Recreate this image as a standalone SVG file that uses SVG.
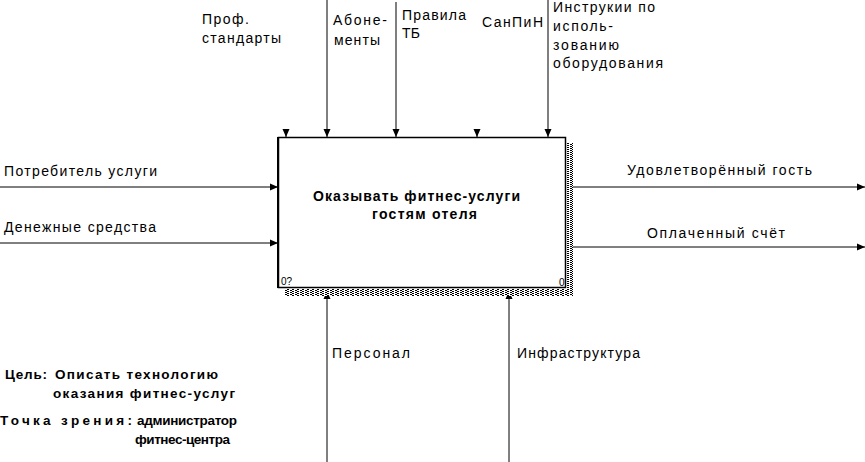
<svg xmlns="http://www.w3.org/2000/svg" width="865" height="462" viewBox="0 0 865 462">
<style>
text{font-family:"Liberation Sans",Arial,"DejaVu Sans",sans-serif;fill:#000}
.lbl{font-size:14px}
.ttl{font-size:14px;font-weight:bold}
.meta{font-size:13.5px;font-weight:bold}
.num{font-size:10px}
.ln{stroke:#000;stroke-width:1;fill:none}
</style>
<defs>
<marker id="ah" markerUnits="userSpaceOnUse" markerWidth="10" markerHeight="8" refX="8" refY="4" orient="auto">
<path d="M0,0.5 L8,4 L0,7.5 Z" fill="#000"/>
</marker>
<pattern id="hatch" width="5" height="2" patternUnits="userSpaceOnUse">
<rect width="5" height="2" fill="#fff"/>
<rect x="0" y="0" width="2" height="1" fill="#000"/>
<rect x="2" y="1" width="2" height="1" fill="#000"/>
</pattern>
</defs>
<rect width="865" height="462" fill="#fff"/>

<g id="connectors">
<path class="ln" d="M286,129 L286,137" marker-end="url(#ah)"/>
<path class="ln" d="M327,0 L327,137" marker-end="url(#ah)"/>
<path class="ln" d="M396,2 L396,137" marker-end="url(#ah)"/>
<path class="ln" d="M477,129 L477,137" marker-end="url(#ah)"/>
<path class="ln" d="M548,0 L548,137" marker-end="url(#ah)"/>
<path class="ln" d="M0,187 L278,187" marker-end="url(#ah)"/>
<path class="ln" d="M0,243 L278,243" marker-end="url(#ah)"/>
<path class="ln" d="M573,187 L865,187" marker-end="url(#ah)"/>
<path class="ln" d="M573,247 L865,247" marker-end="url(#ah)"/>
<path class="ln" d="M327,462 L327,291" marker-end="url(#ah)"/>
<path class="ln" d="M509,462 L509,291" marker-end="url(#ah)"/>
</g>

<g id="labels">
<text class="lbl" x="202" y="24" textLength="47" lengthAdjust="spacing">Проф.</text>
<text class="lbl" x="202" y="43" textLength="79" lengthAdjust="spacing">стандарты</text>
<text class="lbl" x="333" y="25" textLength="54" lengthAdjust="spacing">Абоне-</text>
<text class="lbl" x="334" y="45" textLength="46" lengthAdjust="spacing">менты</text>
<text class="lbl" x="402" y="20" textLength="64" lengthAdjust="spacing">Правила</text>
<text class="lbl" x="402" y="38" textLength="18" lengthAdjust="spacing">ТБ</text>
<text class="lbl" x="482" y="27" textLength="61" lengthAdjust="spacing">СанПиН</text>
<text class="lbl" x="553" y="12" textLength="102" lengthAdjust="spacing">Инструкии по</text>
<text class="lbl" x="553" y="31" textLength="60" lengthAdjust="spacing">исполь-</text>
<text class="lbl" x="553" y="50" textLength="66" lengthAdjust="spacing">зованию</text>
<text class="lbl" x="553" y="68" textLength="110" lengthAdjust="spacing">оборудования</text>
<text class="lbl" x="4" y="176" textLength="153" lengthAdjust="spacing">Потребитель услуги</text>
<text class="lbl" x="4" y="232" textLength="152" lengthAdjust="spacing">Денежные средства</text>
<text class="lbl" x="627" y="175" textLength="185" lengthAdjust="spacing">Удовлетворённый гость</text>
<text class="lbl" x="647" y="238" textLength="138" lengthAdjust="spacing">Оплаченный счёт</text>
<text class="lbl" x="332" y="358" textLength="78" lengthAdjust="spacing">Персонал</text>
<text class="lbl" x="517" y="358" textLength="123" lengthAdjust="spacing">Инфраструктура</text>
</g>

<g id="node-A0">
<rect x="567" y="143" width="6" height="153" fill="url(#hatch)"/>
<rect x="284" y="289" width="289" height="7" fill="url(#hatch)"/>
<rect x="278.5" y="137.5" width="287" height="150" fill="#fff" stroke="#000" stroke-width="1.5"/>
<line x1="278" y1="137" x2="278" y2="288" stroke="#000" stroke-width="2"/>
<text class="ttl" x="313" y="201" textLength="207" lengthAdjust="spacing">Оказывать фитнес-услуги</text>
<text class="ttl" x="372" y="219" textLength="105" lengthAdjust="spacing">гостям отеля</text>
<text class="num" x="281" y="285">0?</text>
<text class="num" x="559" y="286">0</text>
</g>

<g id="meta">
<text class="meta" x="5" y="379" textLength="42" lengthAdjust="spacing">Цель:</text>
<text class="meta" x="55" y="379" textLength="163" lengthAdjust="spacing">Описать технологию</text>
<text class="meta" x="53" y="398" textLength="182" lengthAdjust="spacing">оказания фитнес-услуг</text>
<text class="meta" x="0" y="425" textLength="132" lengthAdjust="spacing">Точка зрения:</text>
<text class="meta" x="137" y="425" textLength="100" lengthAdjust="spacing">администратор</text>
<text class="meta" x="135" y="444" textLength="95" lengthAdjust="spacing">фитнес-центра</text>
</g>
</svg>
